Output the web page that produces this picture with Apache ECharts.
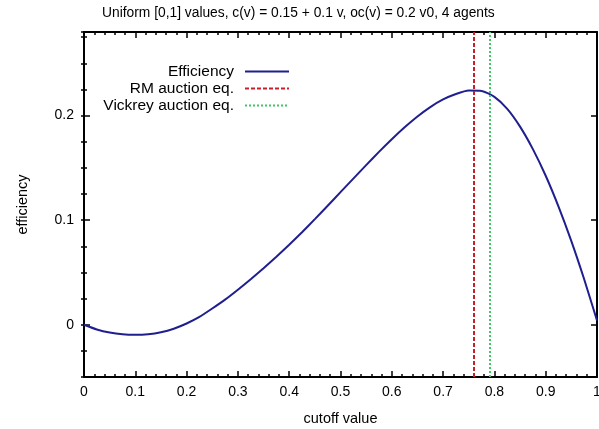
<!DOCTYPE html>
<html lang="en">
<head>
  <meta charset="UTF-8">
  <title>efficiency</title>
  <script src="https://cdn.jsdelivr.net/npm/echarts@6/dist/echarts.min.js"></script>
  <style>
    html,body{padding:0;margin:0;background:#fff;}
    #box{width:599px;height:429px;}
  </style>
</head>
<body>
  <div id="box"></div>
  <script>
    // cutoff values and efficiency
    var cutoff = [0, 0.025, 0.05, 0.075, 0.1, 0.125, 0.15, 0.175, 0.2, 0.225, 0.25, 0.275, 0.3, 0.325, 0.35, 0.375,
                  0.4, 0.425, 0.45, 0.475, 0.5, 0.525, 0.55, 0.575, 0.6, 0.625, 0.65, 0.675, 0.7, 0.725, 0.75, 0.775,
                  0.8, 0.825, 0.85, 0.875, 0.9, 0.925, 0.95, 0.975, 1]
    var efficiency = [0, -0.0045, -0.0075, -0.0092, -0.0097, -0.0091, -0.0072, -0.0038, 0.0012, 0.0075, 0.0155, 0.024, 0.0335, 0.0435, 0.054, 0.065,
                      0.0765, 0.0885, 0.101, 0.1138, 0.1268, 0.1398, 0.1527, 0.1653, 0.1774, 0.1888, 0.1992, 0.2082, 0.2155, 0.2207, 0.224, 0.2236,
                      0.218, 0.2065, 0.1895, 0.168, 0.1425, 0.113, 0.08, 0.0435, 0.004]
    var rmEq = 0.764
    var vickreyEq = 0.788
    var yMajor = [0, 0.1, 0.2]

    var font = 'Liberation Sans'
    var curve = cutoff.map(function(x, i){ return [x, efficiency[i]] })

    function xAx(pos, label){
      return {
        type:'value', position:pos, min:0, max:1, interval:0.1,
        axisLine:{show:true, onZero:false, lineStyle:{color:'#000', width:2}},
        axisTick:{show:true, inside:true, length:6, lineStyle:{color:'#000', width:1.5}},
        minorTick:{show:true, splitNumber:5, length:3, lineStyle:{color:'#000', width:1.5}},
        axisLabel:{show:label, color:'#000', fontFamily:font, fontSize:14, margin:8},
        splitLine:{show:false},
        name: label ? 'cutoff value' : '', nameLocation:'middle', nameGap:34,
        nameTextStyle:{color:'#000', fontFamily:font, fontSize:14.5}
      }
    }
    function yMajorAx(pos, label){
      return {
        type:'value', position:pos, min:-0.05, max:0.28,
        axisLine:{show:true, onZero:false, lineStyle:{color:'#000', width:2}},
        axisTick:{show:true, inside:true, length:6, customValues:yMajor, lineStyle:{color:'#000', width:1.5}},
        axisLabel:{show:label, customValues:yMajor, color:'#000', fontFamily:font, fontSize:14, margin:10},
        splitLine:{show:false},
        name: label ? 'efficiency' : '', nameLocation:'middle', nameGap:54, nameRotate:90,
        nameTextStyle:{color:'#000', fontFamily:font, fontSize:14.5}
      }
    }
    function yMinorAx(pos){
      return {
        type:'value', position:pos, min:-0.05, max:0.28, interval:0.025,
        axisLine:{show:false},
        axisTick:{show:true, inside:true, length:3, lineStyle:{color:'#000', width:1.5}},
        axisLabel:{show:false},
        splitLine:{show:false}
      }
    }

    var option = {
      animation:false,
      textStyle:{fontFamily:font},
      title:{
        text:'Uniform [0,1] values, c(v) = 0.15 + 0.1 v, oc(v) = 0.2 v0, 4 agents',
        left:97, top:1,
        textStyle:{color:'#000', fontFamily:font, fontSize:13.8, fontWeight:'normal'}
      },
      legend:{
        orient:'vertical', align:'right', right:309, top:63, padding:0,
        itemWidth:44, itemHeight:12, itemGap:0,
        itemStyle:{opacity:0},
        textStyle:{color:'#000', fontFamily:font, fontSize:15.5, lineHeight:17, padding:[0,6,0,0]},
        data:['Efficiency','RM auction eq.','Vickrey auction eq.']
      },
      grid:{left:84, right:2, top:32, bottom:52, outerBoundsMode:'none', containLabel:false},
      xAxis:[xAx('bottom', true), xAx('top', false)],
      yAxis:[yMajorAx('left', true), yMinorAx('left'), yMajorAx('right', false), yMinorAx('right')],
      series:[
        {
          name:'Efficiency', type:'line', smooth:0.2, symbol:'none',
          color:'#1f1f8f', lineStyle:{color:'#1f1f8f', width:2},
          data:curve
        },
        {
          name:'RM auction eq.', type:'line', symbol:'none', data:[],
          color:'#c8202a', lineStyle:{color:'#c8202a', width:2, type:[4,2]},
          markLine:{
            silent:true, symbol:'none', label:{show:false},
            lineStyle:{color:'#c8202a', width:2, type:[4,2]},
            data:[{xAxis:rmEq}]
          }
        },
        {
          name:'Vickrey auction eq.', type:'line', symbol:'none', data:[],
          color:'#3cc864', lineStyle:{color:'#3cc864', width:2, type:[2,2]},
          markLine:{
            silent:true, symbol:'none', label:{show:false},
            lineStyle:{color:'#3cc864', width:2, type:[2,2]},
            data:[{xAxis:vickreyEq}]
          }
        }
      ]
    };
    var myChart = echarts.init(document.getElementById('box'));
    myChart.setOption(option);
  </script>
</body>
</html>
